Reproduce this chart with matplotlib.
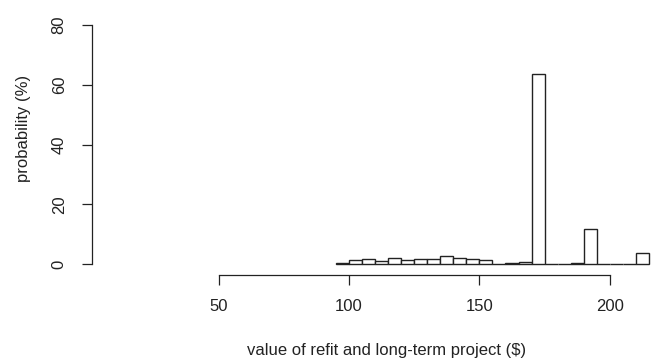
import matplotlib
matplotlib.use("Agg")
import matplotlib.pyplot as plt

# histogram bins (left edges, width 5) and probability per bin (%)
bin_left = [95, 100, 105, 110, 115, 120, 125, 130, 135, 140, 145, 150,
            155, 160, 165, 170, 175, 180, 185, 190, 195, 200, 205, 210]
prob = [0.5, 1.35, 1.8, 1.0, 2.1, 1.35, 1.8, 1.8, 2.9, 2.1, 1.8, 1.35,
        0.0, 0.3, 0.7, 63.5, 0.0, 0.0, 0.3, 11.8, 0.0, 0.0, 0.0, 3.9]
bin_width = 5

x_ticks = [50, 100, 150, 200]
y_ticks = [0, 20, 40, 60, 80]

plt.rcParams['font.family'] = ['Liberation Sans', 'DejaVu Sans']

W, H = 657, 358
fig = plt.figure(figsize=(W / 100, H / 100), dpi=100)

# axes placed in pixel coordinates (R-like plot region)
left_px, right_px = 91.7, 651.5
top_px, bottom_px = 14.3, 275.0
ax = fig.add_axes([left_px / W, 1 - bottom_px / H,
                   (right_px - left_px) / W, (bottom_px - top_px) / H])

ax.bar(bin_left, prob, width=bin_width, align='edge', facecolor='white',
       edgecolor='#222222', linewidth=1.0)

ax.set_xlim(1.3, 216)
ax.set_ylim(-3.6, 83.6)

for s in ['top', 'right']:
    ax.spines[s].set_visible(False)
ax.spines['left'].set_bounds(0, 80)
ax.spines['bottom'].set_bounds(50, 200)
for s in ['left', 'bottom']:
    ax.spines[s].set_color('#222222')
    ax.spines[s].set_linewidth(0.9)

ax.set_xticks(x_ticks)
ax.set_yticks(y_ticks)
ax.set_yticklabels([str(v) for v in y_ticks], rotation=90, va='center')
ax.tick_params(axis='both', length=7, width=0.9, color='#222222',
               labelsize=12, labelcolor='#222222')
ax.tick_params(axis='x', pad=10)
ax.tick_params(axis='y', pad=11)

fig.text(387 / W, 1 - 350 / H, 'value of refit and long-term project ($)',
         ha='center', va='center', fontsize=12, color='#222222')
fig.text(24 / W, 1 - 128 / H, 'probability (%)', rotation=90,
         ha='center', va='center', fontsize=12, color='#222222')

fig.savefig('out.png', dpi=100)
